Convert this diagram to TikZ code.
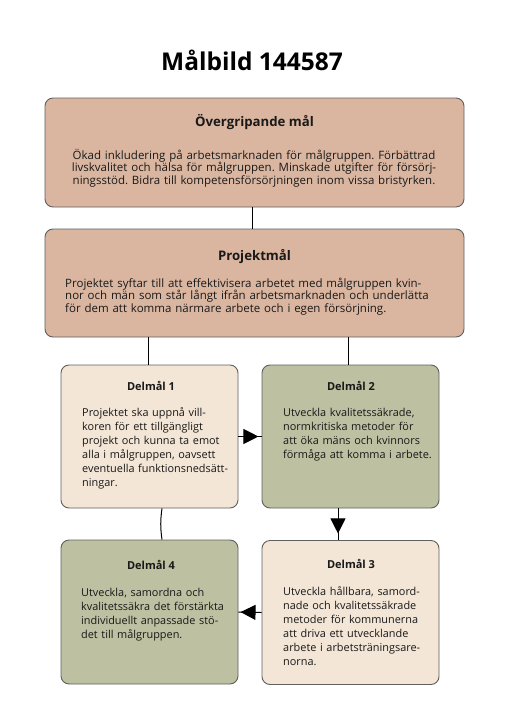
\documentclass[tikz,border=0pt]{standalone}
\usepackage{fontspec}
\setmainfont{Open Sans}
\usetikzlibrary{arrows.meta,decorations.markings}
\definecolor{rose}{RGB}{218,182,160}
\definecolor{beige}{RGB}{243,230,214}
\definecolor{sage}{RGB}{189,192,161}
\definecolor{edgegray}{RGB}{95,95,95}
\definecolor{ink}{RGB}{25,25,25}
\tikzset{
  box/.style={draw=edgegray, line width=0.9pt, rounded corners=8pt, inner sep=0pt},
  bighead/.style={font=\fontsize{13.2}{15}\selectfont\bfseries, text=ink, inner sep=0pt, anchor=base},
  bigbody/.style={font=\fontsize{11.5}{12.6}\selectfont\frenchspacing, text=ink, inner sep=0pt},
  dhead/.style={font=\fontsize{11}{12}\selectfont\bfseries, text=ink, inner sep=0pt, anchor=base},
  dbody/.style={font=\fontsize{10.9}{14}\selectfont\frenchspacing, text=ink, inner sep=0pt, align=left, text width=160pt, anchor=base west},
  conn/.style={draw=black, line width=1pt}
}
\begin{document}
\begin{tikzpicture}[x=1pt,y=-1pt]
\useasboundingbox (0,0) rectangle (509,720);
\node[font=\fontsize{24.5}{28}\selectfont\bfseries, inner sep=0pt, anchor=base] (title) at (252,70) {Målbild 144587};

\node[box, fill=rose, minimum width=419pt, minimum height=109pt] (top) at (254.5,152.5) {};
\node[box, fill=rose, minimum width=419pt, minimum height=108pt] (proj) at (254.5,283) {};
\node[box, fill=beige, minimum width=177pt, minimum height=143pt] (d1) at (149.5,436.5) {};
\node[box, fill=sage, minimum width=177pt, minimum height=143pt] (d2) at (350.5,436.5) {};
\node[box, fill=beige, minimum width=177pt, minimum height=144pt] (d3) at (350.5,612.5) {};
\node[box, fill=sage, minimum width=177pt, minimum height=144pt] (d4) at (149.5,612) {};

\node[bighead] (toph) at (254.5,126.5) {Övergripande mål};
\node[bigbody, align=center, text width=415pt, anchor=base] (topb) at (254,159) {Ökad inkludering på arbetsmarknaden för målgruppen. Förbättrad\\livskvalitet och hälsa för målgruppen. Minskade utgifter för försörj-\\ningsstöd. Bidra till kompetensförsörjningen inom vissa bristyrken.};

\node[bighead] (projh) at (254.5,260) {Projektmål};
\node[bigbody, align=left, text width=400pt, anchor=base west] (projb) at (65,287) {Projektet syftar till att effektivisera arbetet med målgruppen kvin-\\nor och män som står långt ifrån arbetsmarknaden och underlätta\\för dem att komma närmare arbete och i egen försörjning.};

\node[dhead] (d1h) at (151,390) {Delmål 1};
\node[dbody] (d1b) at (82,416) {Projektet ska uppnå vill-\\koren för ett tillgängligt\\projekt och kunna ta emot\\alla i målgruppen, oavsett\\eventuella funktionsnedsätt-\\ningar.};

\node[dhead] (d2h) at (351,390) {Delmål 2};
\node[dbody] (d2b) at (283,416) {Utveckla kvalitetssäkrade,\\normkritiska metoder för\\att öka mäns och kvinnors\\förmåga att komma i arbete.};

\node[dhead] (d3h) at (351,568) {Delmål 3};
\node[dbody] (d3b) at (283,595) {Utveckla hållbara, samord-\\nade och kvalitetssäkrade\\metoder för kommunerna\\att driva ett utvecklande\\arbete i arbetsträningsare-\\norna.};

\node[dhead] (d4h) at (151,569) {Delmål 4};
\node[dbody] (d4b) at (81,596) {Utveckla, samordna och\\kvalitetssäkra det förstärkta\\individuellt anpassade stö-\\det till målgruppen.};

% connectors
\draw[conn] ([xshift=-2.5pt]top.south) -- ([xshift=-2.5pt]proj.north);
\draw[conn] (proj.south -| 148,0) -- (d1.north -| 148,0);
\draw[conn] (proj.south -| 348,0) -- (d2.north -| 348,0);
\draw[conn] (d1.south -| 162,0) to[bend right=8] (d4.north -| 162,0);
\draw[conn, postaction={decorate}, decoration={markings, mark=at position 20pt with {\arrow{Triangle[length=15pt,width=15pt]}}}] (d1.east) -- (d2.west);
\draw[conn, postaction={decorate}, decoration={markings, mark=at position 25pt with {\arrow{Triangle[length=15pt,width=15pt]}}}] (d2.south -| 338,0) -- (d3.north -| 338,0);
\draw[conn, postaction={decorate}, decoration={markings, mark=at position 21pt with {\arrow{Triangle[length=15pt,width=15pt]}}}] (d3.west) -- (d4.east);
\end{tikzpicture}
\end{document}
